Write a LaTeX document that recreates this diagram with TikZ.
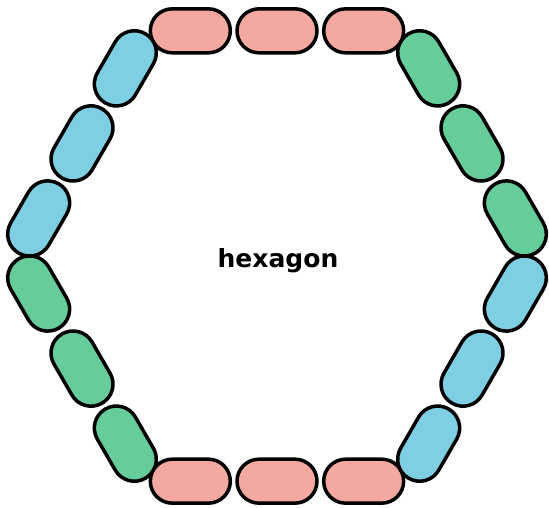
\documentclass[tikz,border=0pt]{standalone}
\usepackage{fontspec}
\setsansfont{DejaVu Sans}
\usetikzlibrary{calc}
\definecolor{cpink}{RGB}{244,169,160}
\definecolor{cblue}{RGB}{126,207,227}
\definecolor{cgreen}{RGB}{102,204,153}
\begin{document}
\begin{tikzpicture}[x=1pt,y=1pt,
 capsule/.style={draw=black, line width=3.5pt, rounded corners=22pt, minimum width=80pt, minimum height=44pt, inner sep=0pt},
 lbl/.style={font=\sffamily\bfseries\fontsize{25}{30}\selectfont, inner sep=0pt}]
\useasboundingbox (0,0) rectangle (549,508);
\coordinate (C) at (277,252);
\foreach \k/\col in {0/cgreen,1/cpink,2/cblue,3/cgreen,4/cpink,5/cblue}{
  \foreach \t in {1,2,3}{
    \pgfmathsetmacro{\mx}{225.17*cos(60*\k+30)+86.67*(\t-2)*cos(60*\k+120)}
    \pgfmathsetmacro{\my}{225.17*sin(60*\k+30)+86.67*(\t-2)*sin(60*\k+120)}
    \node[capsule, fill=\col, rotate=60*\k+120] (cap\k\t) at ($(C)+(\mx,\my)$) {};
  }
}
\node[lbl] (title) at (278,247) {hexagon};
\end{tikzpicture}
\end{document}
